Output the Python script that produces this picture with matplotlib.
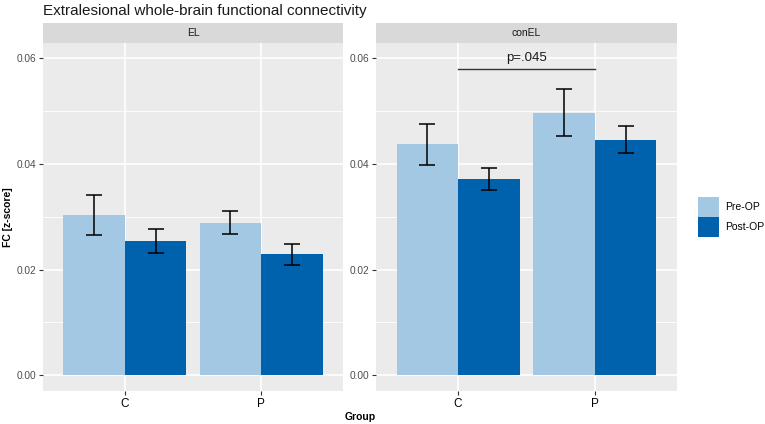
import matplotlib
matplotlib.use('Agg')
import matplotlib.pyplot as plt
import numpy as np

plt.rcParams['font.family'] = ['Liberation Sans', 'DejaVu Sans']

# data
groups = ['C', 'P']
panels = ['EL', 'conEL']
conditions = ['Pre-OP', 'Post-OP']
colors = ['#a3c8e3', '#0062ad']

mean_el_pre = [0.0303, 0.0289]
err_el_pre = [0.0038, 0.0022]
mean_el_post = [0.0254, 0.0229]
err_el_post = [0.0023, 0.0020]

mean_con_pre = [0.0437, 0.0497]
err_con_pre = [0.0039, 0.0045]
mean_con_post = [0.0372, 0.0446]
err_con_post = [0.0021, 0.0026]

p_label = 'p=.045'
p_height = 0.0579

W, H = 765, 424
fig = plt.figure(figsize=(W / 100, H / 100), dpi=100)

def px_axes(x0, y0, x1, y1):
    # pixel box (top-left origin) -> figure axes
    return fig.add_axes([x0 / W, 1 - y1 / H, (x1 - x0) / W, (y1 - y0) / H])

panel_boxes = [(43, 43, 343, 391), (376, 43, 677, 391)]
panel_data = [
    (mean_el_pre, err_el_pre, mean_el_post, err_el_post),
    (mean_con_pre, err_con_pre, mean_con_post, err_con_post),
]

x = np.arange(1, len(groups) + 1)
bw = 0.45
axes = []
for (x0, y0, x1, y1), name, (mp, ep, mq, eq) in zip(panel_boxes, panels, panel_data):
    ax = px_axes(x0, y0, x1, y1)
    ax.set_facecolor('#ebebeb')
    ax.set_xlim(0.4, 2.6)
    ax.set_ylim(-0.003, 0.0629)
    for y in [0.01, 0.03, 0.05]:
        ax.axhline(y, color='white', lw=0.6, zorder=0)
    for y in [0.0, 0.02, 0.04, 0.06]:
        ax.axhline(y, color='white', lw=1.2, zorder=0)
    for xv in x:
        ax.axvline(xv, color='white', lw=1.2, zorder=0)
    ax.bar(x - bw / 2, mp, width=bw, color=colors[0], zorder=2, label=conditions[0])
    ax.bar(x + bw / 2, mq, width=bw, color=colors[1], zorder=2, label=conditions[1])
    ax.errorbar(x - bw / 2, mp, yerr=ep, fmt='none', ecolor='black', elinewidth=1.1,
                capsize=6, capthick=1.1, zorder=3)
    ax.errorbar(x + bw / 2, mq, yerr=eq, fmt='none', ecolor='black', elinewidth=1.1,
                capsize=6, capthick=1.1, zorder=3)
    ax.set_yticks([0.0, 0.02, 0.04, 0.06])
    ax.set_yticklabels(['0.00', '0.02', '0.04', '0.06'])
    ax.set_xticks(x)
    ax.set_xticklabels(groups)
    ax.tick_params(axis='y', colors='#333333', labelcolor='#4d4d4d', labelsize=7.3,
                   length=3, width=0.8, pad=2)
    ax.tick_params(axis='x', colors='#333333', labelcolor='black', labelsize=8.5,
                   length=3, width=0.8, pad=2)
    for s in ax.spines.values():
        s.set_visible(False)
    # strip
    sax = px_axes(x0, 23, x1, 43)
    sax.set_facecolor('#d9d9d9')
    sax.set_xticks([])
    sax.set_yticks([])
    for s in sax.spines.values():
        s.set_visible(False)
    sax.text(0.5, 0.5, name, ha='center', va='center', fontsize=7.5, color='#1a1a1a',
             transform=sax.transAxes)
    axes.append(ax)

# significance bracket in conEL panel
axr = axes[1]
axr.plot([1, 2], [p_height, p_height], color='#333333', lw=1.0, zorder=4)
axr.text(1.5, p_height + 0.0021, p_label, ha='center', va='center', fontsize=9.5,
         color='#1a1a1a', zorder=4)

fig.text(8 / W, 1 - 217 / H, 'FC [z-score]', rotation=90, ha='center', va='center',
         fontsize=7.5, fontweight='bold')
fig.text(360 / W, 1 - 417 / H, 'Group', ha='center', va='center', fontsize=7.5,
         fontweight='bold')
fig.text(43 / W, 1 - 11 / H, 'Extralesional whole-brain functional connectivity',
         ha='left', va='center', fontsize=11, color='#1a1a1a')

handles, labels = axes[0].get_legend_handles_labels()
fig.legend(handles, labels, loc='center left', bbox_to_anchor=(694 / W, 1 - 217 / H),
           frameon=False, fontsize=7.5, handlelength=2.0, handleheight=2.6,
           handletextpad=0.6, labelspacing=0.0, borderaxespad=0)

fig.savefig('out.png', dpi=100)
